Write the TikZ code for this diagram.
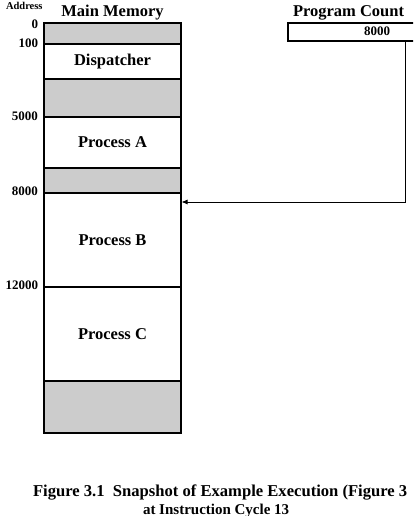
\documentclass[tikz,border=0pt]{standalone}
\usepackage{fontspec}
\setmainfont{Liberation Serif}
\usetikzlibrary{arrows.meta}

\tikzset{
  memseg/.style={draw=black, line width=1.3pt, minimum width=137pt, fill=white,
    font=\bfseries\fontsize{16.5}{16.5}\selectfont},
  memfree/.style={memseg, fill=black!20},
  addrlabel/.style={anchor=east, font=\bfseries\fontsize{13}{13}\selectfont},
  headlabel/.style={anchor=base, font=\bfseries\fontsize{16.5}{16.5}\selectfont},
  captionline/.style={anchor=base west, font=\bfseries\fontsize{16.6}{16.6}\selectfont},
}

\begin{document}
\begin{tikzpicture}[y=1pt, x=1pt, yscale=-1, inner sep=0pt, outer sep=0pt]
  \useasboundingbox (0,0) rectangle (413,516);
  \clip (0,0) rectangle (413,516);

  % headings
  \node[anchor=base west, font=\bfseries\fontsize{10.5}{10.5}\selectfont]
    (addrhead) at (6,9.5) {Address};
  \node[headlabel] (memhead) at (112.5,17) {Main Memory};
  \node[headlabel, anchor=base west] (pchead) at (293,17) {Program Count};

  % main memory
  \node[memfree, minimum height=21pt] (free0) at (112.5,33.5) {};
  \node[memseg, minimum height=35pt] (dispatcher) at (112.5,61.5) {Dispatcher};
  \node[memfree, minimum height=38pt] (free1) at (112.5,98) {};
  \node[memseg, minimum height=51pt] (procA) at (112.5,142.5) {Process A};
  \node[memfree, minimum height=25pt] (free2) at (112.5,180.5) {};
  \node[memseg, minimum height=94pt] (procB) at (112.5,240) {Process B};
  \node[memseg, minimum height=94pt] (procC) at (112.5,334) {Process C};
  \node[memfree, minimum height=52pt] (free3) at (112.5,407) {};

  % addresses
  \node[addrlabel] (addr0) at (38,24) {0};
  \node[addrlabel] (addr100) at (38,43) {100};
  \node[addrlabel] (addr5000) at (38,116) {5000};
  \node[addrlabel] (addr8000) at (38,191) {8000};
  \node[addrlabel] (addr12000) at (38,285) {12000};

  % program counter
  \node[draw=black, line width=1.3pt, minimum width=150pt, minimum height=18pt,
    anchor=north west] (pcbox) at (288,23) {};
  \node[anchor=base east, font=\bfseries\fontsize{13}{13}\selectfont]
    (pcval) at (390,36) {8000};
  \coordinate (pcout) at (405,41);
  \coordinate (pctarget) at (181.5,202);
  \draw[line width=0.8pt, -{Latex[length=6pt,width=5pt]}] (pcout) |- (pctarget);

  % caption
  \node[captionline] (caption1) at (33,496)
    {Figure 3.1\ \ Snapshot of Example Execution (Figure 3};
  \node[captionline, font=\bfseries\fontsize{15}{15}\selectfont] (caption2)
    at (143,514) {at Instruction Cycle 13};
\end{tikzpicture}
\end{document}
